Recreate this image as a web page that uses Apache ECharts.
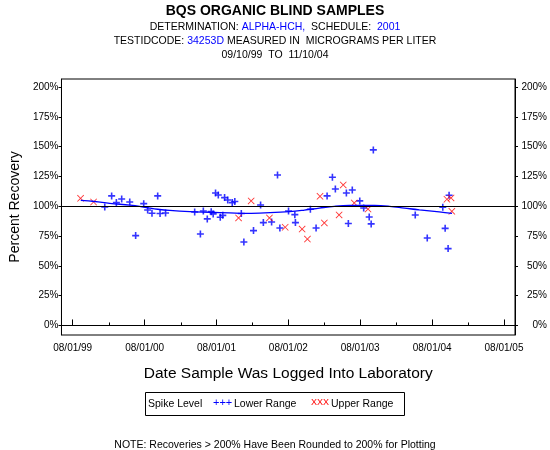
<!DOCTYPE html>
<html>
<head>
<meta charset="utf-8">
<script src="https://cdn.jsdelivr.net/npm/echarts@6/dist/echarts.min.js"></script>
<style>html,body{margin:0;padding:0;background:#fff}#c{width:550px;height:450px}</style>
</head>
<body>
<div id="c"></div>
<script>
// ---- data ----
const lowerDates = ['2000-01-11','2000-02-15','2000-03-10','2000-04-06','2000-05-17','2000-06-16','2000-07-27','2000-08-16','2000-09-07','2000-10-06','2000-10-18','2000-11-15','2001-04-12','2001-05-11','2001-05-26','2001-06-15','2001-07-05','2001-07-15','2001-07-27','2001-08-10','2001-08-20','2001-09-02','2001-09-11','2001-09-27','2001-10-20','2001-11-02','2001-12-05','2001-12-18','2002-02-05','2002-03-13','2002-03-27','2002-05-08','2002-06-07','2002-06-19','2002-08-02','2002-09-03','2002-09-06','2002-11-21','2002-12-20','2003-02-14','2003-03-13','2003-03-28','2003-05-23','2003-06-02','2003-06-22','2003-07-30','2003-08-19','2003-09-16','2003-09-26','2003-10-07','2004-05-07','2004-07-07','2004-09-24','2004-10-06','2004-10-21','2004-10-26'];
const lowerValues = [99.4,108.7,103.1,106.1,103.6,75.4,102.2,96.9,94.1,108.7,93.9,94.4,95.2,76.7,96.1,89.4,95.5,93.6,111.2,109.5,90.8,92.4,107.3,105.3,103.1,104.0,93.9,70.0,79.6,101.1,86.3,86.8,126.3,81.8,96.1,93.0,86.3,97.5,81.8,108.7,124.4,114.5,111.2,85.5,113.7,104.5,98.6,91.0,85.2,147.3,92.7,73.4,99.2,81.5,64.5,109.2];
const upperDates = ['1999-09-10','1999-11-15','2001-11-21','2002-01-24','2002-04-27','2002-07-16','2002-10-10','2002-11-06','2003-01-09','2003-01-31','2003-04-16','2003-05-07','2003-07-02','2003-09-10','2004-10-15','2004-11-05','2004-11-09'];
const upperValues = [106.7,103.6,90.2,104.5,90.2,82.4,80.9,72.5,108.4,86.0,92.7,117.9,102.8,97.7,105.9,107.0,95.8];
const trendDates = ['1999-09-11','1999-11-21','2000-02-05','2000-05-17','2000-07-06','2000-08-26','2000-10-06','2000-12-06','2001-03-18','2001-06-27','2001-10-06','2001-12-21','2002-04-02','2002-08-07','2002-10-22','2003-01-06','2003-03-23','2003-06-07','2003-10-13','2003-12-28','2004-03-13','2004-05-28','2004-09-06','2004-11-10'];
const trendValues = [105,104,102.5,101,100,98.5,97.5,96.5,95.5,95,94.5,94,94.5,95.5,96.8,98.5,100,100.7,100.7,100,98.5,97,95.3,94];
const yTicks = [0,25,50,75,100,125,150,175,200];
const xMajorTicks = ['1999-08-01','2000-08-01','2001-08-01','2002-08-01','2003-08-01','2004-08-01','2005-08-01'];
const xMinorTicks = ['2000-02-01','2001-02-01','2002-02-01','2003-02-01','2004-02-01','2005-02-01'];
const referenceLevel = 100;

function ts(s){ const p=s.split('-').map(Number); return Date.UTC(p[0],p[1]-1,p[2]); }
function pad(n){ return (n<10?'0':'')+n; }
function fmt(v){ const d=new Date(v); return pad(d.getUTCMonth()+1)+'/'+pad(d.getUTCDate())+'/'+pad(d.getUTCFullYear()%100); }

const FONT = 'Liberation Sans';
const chart = echarts.init(document.getElementById('c'), null, {renderer:'canvas'});
const plusPath = 'path://M-0.8,-3.5L0.8,-3.5L0.8,-0.8L3.5,-0.8L3.5,0.8L0.8,0.8L0.8,3.5L-0.8,3.5L-0.8,0.8L-3.5,0.8L-3.5,-0.8L-0.8,-0.8Z';
const xPath = 'path://M-4,-3.3L-3.3,-4L0,-0.7L3.3,-4L4,-3.3L0.7,0L4,3.3L3.3,4L0,0.7L-3.3,4L-4,3.3L-0.7,0Z';

const small = {fontFamily:FONT,fontSize:10.5,color:'#000',fontWeight:'normal'};
const blueSmall = Object.assign({},small,{color:'#0000ff'});
const xMin = ts('1999-06-05'), xMax = ts('2005-09-26');
const yMin = -8.0, yMax = 206.8;
const yAxisCommon = {
  type:'value', min:yMin, max:yMax,
  splitLine:{show:false},
  axisLine:{show:true,lineStyle:{color:'#000',width:1}},
  axisTick:{show:true,inside:false,length:3,customValues:yTicks,lineStyle:{color:'#000'}},
  axisLabel:{customValues:yTicks,formatter:v=>v+'%',fontFamily:FONT,fontSize:10,color:'#000',margin:3}
};

chart.setOption({
  animation:false,
  backgroundColor:'#fff',
  title:[
    {text:'BQS ORGANIC BLIND SAMPLES',left:'center',top:-1,textStyle:{fontFamily:FONT,fontWeight:'900',fontSize:14,color:'#000'}},
    {text:'{k|DETERMINATION: }{b|ALPHA-HCH,}{k|  SCHEDULE:  }{b|2001}',left:'center',top:17,textStyle:{rich:{k:small,b:blueSmall}}},
    {text:'{k|TESTIDCODE: }{b|34253D}{k| MEASURED IN  MICROGRAMS PER LITER}',left:'center',top:31,textStyle:{rich:{k:small,b:blueSmall}}},
    {text:'{k|09/10/99  TO  11/10/04}',left:'center',top:45,textStyle:{rich:{k:small}}},
    {text:'{k|NOTE: Recoveries > 200% Have Been Rounded to 200% for Plotting}',left:'center',top:435,textStyle:{rich:{k:small}}}
  ],
  grid:{left:61,right:34,top:79,bottom:115,show:true,borderColor:'#000',borderWidth:1,backgroundColor:'transparent'},
  xAxis:[
    {type:'value',min:xMin,max:xMax,
     name:'Date Sample Was Logged Into Laboratory',nameLocation:'middle',nameGap:31,
     nameTextStyle:{fontFamily:FONT,fontSize:15.5,color:'#000'},
     splitLine:{show:false},
     axisLine:{show:true,lineStyle:{color:'#000',width:1}},
     axisTick:{show:true,inside:true,length:6,customValues:xMajorTicks.map(ts),lineStyle:{color:'#000'}},
     axisLabel:{customValues:xMajorTicks.map(ts),formatter:fmt,fontFamily:FONT,fontSize:10,color:'#000',margin:8}},
    {type:'value',min:xMin,max:xMax,position:'bottom',
     splitLine:{show:false},axisLine:{show:false},
     axisTick:{show:true,inside:true,length:3,customValues:xMinorTicks.map(ts),lineStyle:{color:'#000'}},
     axisLabel:{show:false,customValues:xMinorTicks.map(ts)}}
  ],
  yAxis:[
    Object.assign({},yAxisCommon,{position:'left',name:'Percent Recovery',nameLocation:'middle',nameGap:37,nameTextStyle:{fontFamily:FONT,fontSize:14,color:'#000'}}),
    Object.assign({},yAxisCommon,{position:'right',axisLabel:Object.assign({},yAxisCommon.axisLabel,{align:'right',margin:32})})
  ],
  series:[
    {name:'Trend',type:'line',xAxisIndex:0,yAxisIndex:0,smooth:0.4,showSymbol:false,symbol:'none',
     lineStyle:{color:'#0000ff',width:1.3},
     data:trendDates.map((d,i)=>[ts(d),trendValues[i]]),
     markLine:{silent:true,symbol:'none',label:{show:false},lineStyle:{color:'#000',width:1,type:'solid'},data:[{yAxis:referenceLevel}]}},
    {name:'Lower Range',type:'scatter',xAxisIndex:0,yAxisIndex:0,symbol:plusPath,symbolSize:7,
     itemStyle:{color:'#0000ff'},data:lowerDates.map((d,i)=>[ts(d),lowerValues[i]])},
    {name:'Upper Range',type:'scatter',xAxisIndex:0,yAxisIndex:0,symbol:xPath,symbolSize:7,
     itemStyle:{color:'#ff0000'},data:upperDates.map((d,i)=>[ts(d),upperValues[i]])}
  ],
  graphic:[
    {type:'rect',shape:{x:145.5,y:392.5,width:259,height:23},style:{fill:'none',stroke:'#000',lineWidth:1}},
    {type:'text',x:148,y:404,style:{text:'Spike Level',font:'10.5px "Liberation Sans"',fill:'#000',verticalAlign:'middle'}},
    {type:'text',x:213,y:403,style:{text:'+++',font:'11px "Liberation Sans"',fill:'#0000ff',verticalAlign:'middle'}},
    {type:'text',x:234,y:404,style:{text:'Lower Range',font:'10.5px "Liberation Sans"',fill:'#000',verticalAlign:'middle'}},
    {type:'text',x:311,y:403,style:{text:'XXX',font:'9px "Liberation Sans"',fill:'#ff0000',verticalAlign:'middle'}},
    {type:'text',x:331,y:404,style:{text:'Upper Range',font:'10.5px "Liberation Sans"',fill:'#000',verticalAlign:'middle'}}
  ]
});
</script>
</body>
</html>
